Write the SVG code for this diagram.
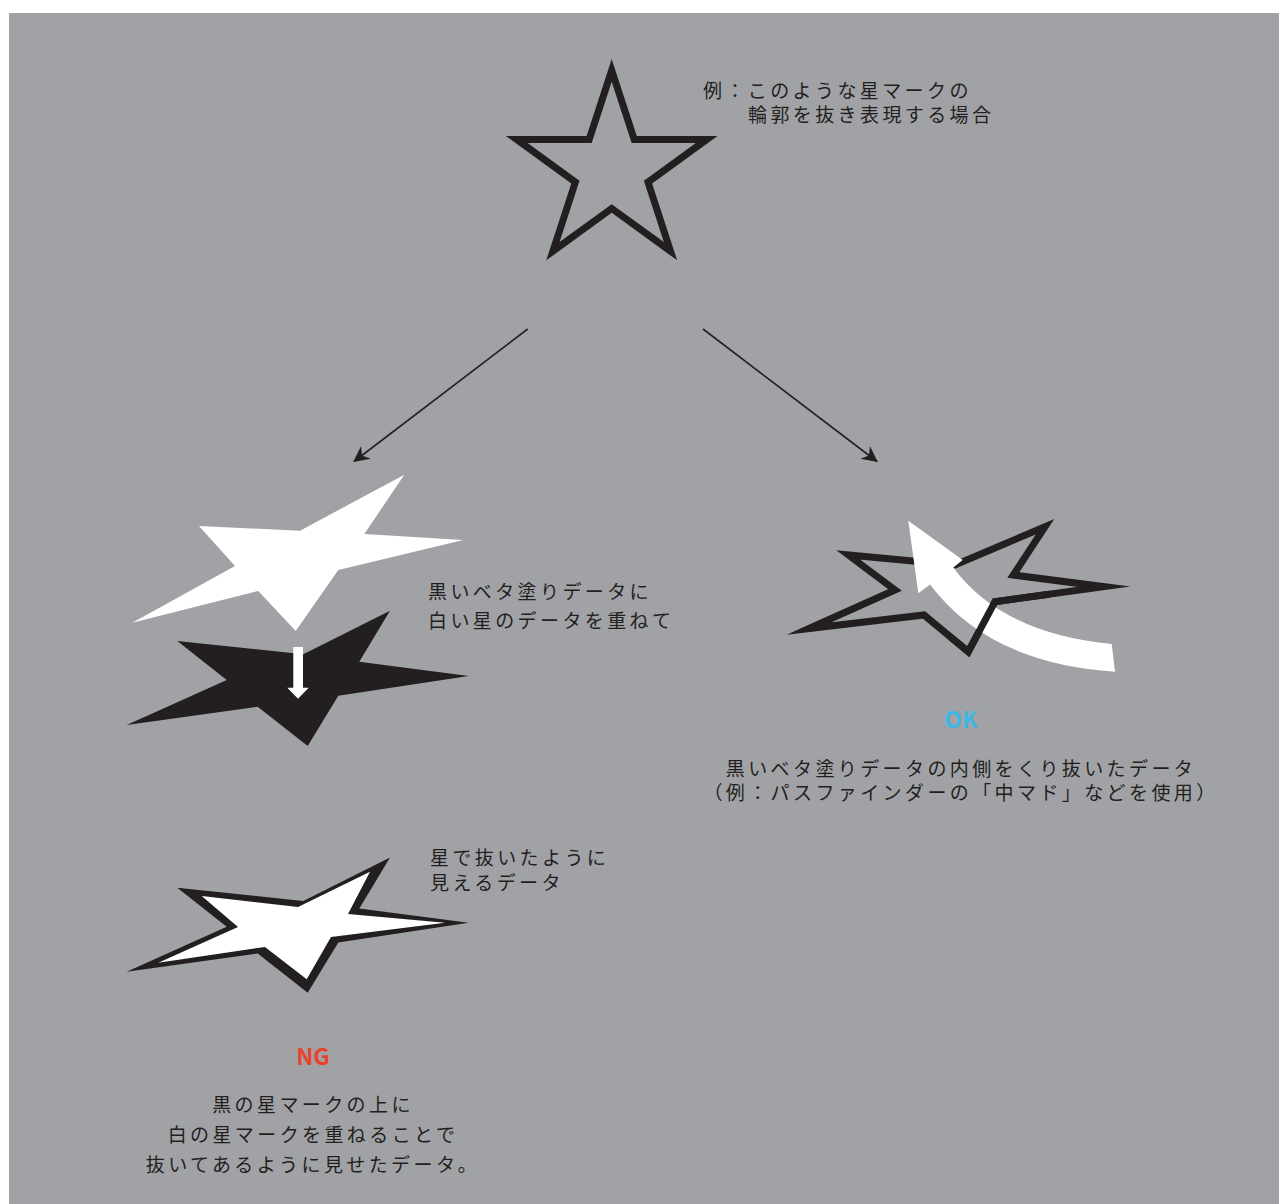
<svg xmlns="http://www.w3.org/2000/svg" xmlns:xlink="http://www.w3.org/1999/xlink" width="1279" height="1204" viewBox="0 0 1279 1204">
<style>
.t{font-family:"Noto Sans CJK JP","Noto Sans",sans-serif;font-size:19px;fill:#231f20;letter-spacing:3.4px}
.c{text-anchor:middle}
.lbl{font-family:"Noto Sans CJK JP","Noto Sans",sans-serif;font-size:23px;font-weight:700;text-anchor:middle}
.conn{fill:none;stroke:#231f20;stroke-width:1.6}
.outline{fill:none;stroke:#231f20;stroke-width:7;stroke-linejoin:miter;stroke-miterlimit:10}
</style>
<defs>
<marker id="ah" markerUnits="userSpaceOnUse" viewBox="0 0 16 16" refX="15" refY="8" markerWidth="16" markerHeight="16" orient="auto">
<path d="M0,0 L16,8 L0,16 L5,8 Z" fill="#231f20"/>
</marker>
<polygon id="dStar" points="177.3,641 303.3,654.3 390,610.7 359.3,661.7 468.7,676 338.3,695.7 307.7,746 257.7,706.7 126.7,725 226.7,680"/>
</defs>
<rect x="9" y="13" width="1270" height="1191" fill="#a1a2a6"/>

<g id="connectors">
<path class="conn" d="M527.7,329 L354,461.5" marker-end="url(#ah)"/>
<path class="conn" d="M703,329 L877,461.5" marker-end="url(#ah)"/>
</g>

<g id="star-example">
<polygon class="outline" points="611.7,70.3 634.2,139.4 706.8,139.4 648,182.1 670.5,251.2 611.7,208.5 552.9,251.2 575.4,182.1 516.6,139.4 589.2,139.4"/>
<text class="t" x="703" y="98">例：このような星マークの</text>
<text class="t" x="748" y="122">輪郭を抜き表現する場合</text>
</g>

<g id="ng-layers">
<polygon fill="#ffffff" points="199,526 300,530.7 404.3,474.7 364.3,534 463.3,540 338.3,570 295.7,631 258.3,591 132.3,622.7 235,566"/>
<use xlink:href="#dStar" href="#dStar" fill="#231f20"/>
<polygon fill="#ffffff" points="293.3,647 303,647 303,687.7 308.7,687.7 298,698.7 287.3,687.7 293.3,687.7"/>
<text class="t" x="428" y="599">黒いベタ塗りデータに</text>
<text class="t" x="428" y="628">白い星のデータを重ねて</text>
</g>

<g id="ng-result">
<use xlink:href="#dStar" href="#dStar" fill="#231f20" transform="translate(0,246.7)"/>
<polygon fill="#ffffff" points="201.7,896 298,907 370,871.7 348,914 445,922.7 331,937 306.7,979.3 265,947 158.3,962.7 238,927"/>
<text class="t" x="430" y="865">星で抜いたように</text>
<text class="t" x="430" y="890">見えるデータ</text>
</g>

<g id="ng-caption">
<text class="lbl" x="313" y="1065" fill="#e8432e">NG</text>
<text class="t c" x="313" y="1112">黒の星マークの上に</text>
<text class="t c" x="313" y="1142">白の星マークを重ねることで</text>
<text class="t c" x="313" y="1172">抜いてあるように見せたデータ。</text>
</g>

<g id="ok-result">
<polygon class="outline" points="809,628.5 895,590 848.3,555 955,565 1045,526.7 1013.3,575 1104,586.7 995,601.7 968.3,651.7 924,615"/>
<path fill="#ffffff" d="M908.3,520.7 L962.7,560 L953.3,567.5 Q1001.3,633 1111.7,644 L1115,671.7 Q989.7,663.7 930,584.5 L918.3,593.3 Z"/>
<polyline class="outline" points="1049.5,594.2 995,601.7 968.3,651.7 950.6,637.1"/>
</g>

<g id="ok-caption">
<text class="lbl" x="961" y="728" fill="#3db8e3">OK</text>
<text class="t c" x="961" y="776">黒いベタ塗りデータの内側をくり抜いたデータ</text>
<text class="t c" x="961" y="800">（例：パスファインダーの「中マド」などを使用）</text>
</g>
</svg>
